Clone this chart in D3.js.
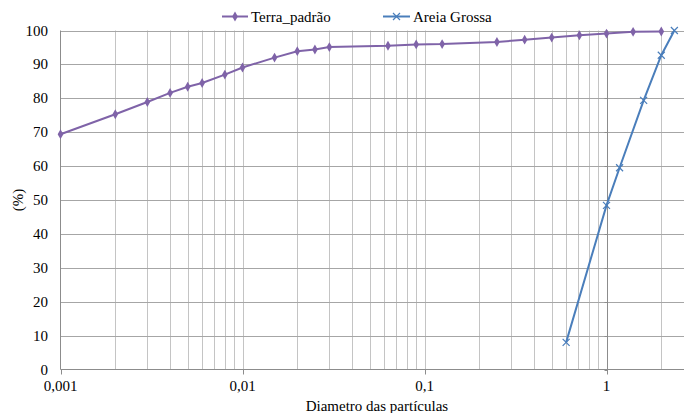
<!DOCTYPE html>
<html>
<head>
<meta charset="utf-8">
<script src="https://cdn.jsdelivr.net/npm/d3@7"></script>
<style>
  html, body { margin: 0; padding: 0; background: #fff; }
  svg { display: block; }
  text { font-family: "Liberation Serif", "Times New Roman", serif; fill: #000; }
</style>
</head>
<body>
<svg id="chart" width="684" height="413"></svg>
<script>
// ---- Data ----
const terraX = [0.001, 0.002, 0.003, 0.004, 0.005, 0.006, 0.008, 0.01, 0.015, 0.02, 0.025, 0.03, 0.063, 0.09, 0.125, 0.25, 0.355, 0.5, 0.71, 1.0, 1.4, 2.0];
const terraY = [69.4, 75.3, 78.9, 81.6, 83.4, 84.5, 87.0, 89.1, 92.0, 93.9, 94.4, 95.1, 95.5, 95.9, 96.0, 96.6, 97.3, 97.9, 98.6, 99.1, 99.6, 99.7];
const areiaX = [0.6, 1.0, 1.18, 1.6, 2.0, 2.36];
const areiaY = [8.0, 48.4, 59.5, 79.4, 92.7, 100];
const seriesNames = ["Terra_padrão", "Areia Grossa"];
const xTickValues = [0.001, 0.01, 0.1, 1];
const xTickLabels = ["0,001", "0,01", "0,1", "1"];
const yTickValues = [0, 10, 20, 30, 40, 50, 60, 70, 80, 90, 100];
const xTitle = "Diametro das partículas";
const yTitle = "(%)";

(function () {
// ---- Layout ----
const pLeft = 60.5, pTop = 30.5, pBottom = 369.5;
const decade = 182;
const fs = 15;
const svg = d3.select("#chart");

const x = d3.scaleLog().domain([0.001, 3]).range([pLeft, pLeft + decade * Math.log10(3 / 0.001)]);
const y = d3.scaleLinear().domain([0, 100]).range([pBottom, pTop]);
const pRight = x.range()[1];

const purple = "#7f63a8";
const blue = "#4a7ebb";

// vertical minor grid lines
const minorVals = [];
[0.001, 0.01, 0.1, 1].forEach(d => {
  for (let m = 1; m <= 9; m++) {
    const v = +(d * m).toPrecision(6);
    if (v > 0.001 && v < 3) minorVals.push(v);
  }
});
svg.append("g").selectAll("line").data(minorVals.filter(v => v !== 1)).join("line")
  .attr("x1", d => Math.round(x(d)) + 0.5).attr("x2", d => Math.round(x(d)) + 0.5)
  .attr("y1", pTop).attr("y2", pBottom)
  .attr("stroke", "#c4c4c4").attr("stroke-width", 1);

// horizontal grid lines
svg.append("g").selectAll("line").data(yTickValues.filter(v => v > 0)).join("line")
  .attr("x1", pLeft).attr("x2", pRight)
  .attr("y1", d => Math.round(y(d)) + 0.5).attr("y2", d => Math.round(y(d)) + 0.5)
  .attr("stroke", "#a6a6a6").attr("stroke-width", 1);

// line at x = 1 (vertical axis crossing) with small ticks
const x1 = Math.round(x(1)) + 0.5;
svg.append("line").attr("x1", x1).attr("x2", x1).attr("y1", pTop).attr("y2", pBottom)
  .attr("stroke", "#8c8c8c").attr("stroke-width", 1);
svg.append("g").selectAll("line").data(yTickValues).join("line")
  .attr("x1", x1 - 3).attr("x2", x1)
  .attr("y1", d => Math.round(y(d)) + 0.5).attr("y2", d => Math.round(y(d)) + 0.5)
  .attr("stroke", "#8c8c8c");

// axes: left and bottom
svg.append("line").attr("x1", pLeft).attr("x2", pLeft).attr("y1", pTop).attr("y2", pBottom)
  .attr("stroke", "#8c8c8c");
svg.append("line").attr("x1", pLeft).attr("x2", pRight).attr("y1", pBottom).attr("y2", pBottom)
  .attr("stroke", "#8c8c8c");

// x ticks
svg.append("g").selectAll("line").data(xTickValues).join("line")
  .attr("x1", d => Math.round(x(d)) + 0.5).attr("x2", d => Math.round(x(d)) + 0.5)
  .attr("y1", pBottom).attr("y2", pBottom + 5)
  .attr("stroke", "#8c8c8c");
svg.append("g").selectAll("text").data(xTickValues).join("text")
  .attr("x", d => x(d)).attr("y", 391)
  .attr("text-anchor", "middle").attr("font-size", fs)
  .text((d, i) => xTickLabels[i]);

// y tick labels
svg.append("g").selectAll("text").data(yTickValues).join("text")
  .attr("x", 48).attr("y", d => y(d) + 5)
  .attr("text-anchor", "end").attr("font-size", fs)
  .text(d => d);

// axis titles
svg.append("text").attr("x", (pLeft + pRight) / 2).attr("y", 411)
  .attr("text-anchor", "middle").attr("font-size", fs).text(xTitle);
svg.append("text").attr("transform", `translate(23,${(pTop + pBottom) / 2}) rotate(-90)`)
  .attr("text-anchor", "middle").attr("font-size", fs).text(yTitle);

// series
const terra = terraX.map((d, i) => [d, terraY[i]]);
const areia = areiaX.map((d, i) => [d, areiaY[i]]);
const line = d3.line().x(d => x(d[0])).y(d => y(d[1]));

svg.append("path").datum(terra).attr("d", line)
  .attr("fill", "none").attr("stroke", purple).attr("stroke-width", 2);
svg.append("path").datum(areia).attr("d", line)
  .attr("fill", "none").attr("stroke", blue).attr("stroke-width", 2);

const diamond = d3.symbol().type(d3.symbolDiamond).size(28);
svg.append("g").selectAll("path").data(terra).join("path")
  .attr("transform", d => `translate(${x(d[0])},${y(d[1])})`)
  .attr("d", diamond).attr("fill", purple);

function cross(g, cx, cy, r) {
  g.append("path").attr("d", `M${cx - r},${cy - r}L${cx + r},${cy + r}M${cx - r},${cy + r}L${cx + r},${cy - r}`)
    .attr("stroke", blue).attr("stroke-width", 1.2).attr("fill", "none");
}
const cg = svg.append("g");
areia.forEach(d => cross(cg, x(d[0]), y(d[1]), 3.5));

// legend
const lg = svg.append("g");
lg.append("line").attr("x1", 222).attr("x2", 248).attr("y1", 16.5).attr("y2", 16.5)
  .attr("stroke", purple).attr("stroke-width", 2);
lg.append("path").attr("transform", "translate(235,16.5)").attr("d", diamond).attr("fill", purple);
lg.append("text").attr("x", 251).attr("y", 21.5).attr("font-size", fs).text(seriesNames[0]);
lg.append("line").attr("x1", 383).attr("x2", 410).attr("y1", 16.5).attr("y2", 16.5)
  .attr("stroke", blue).attr("stroke-width", 2);
cross(lg, 396.5, 16.5, 3.5);
lg.append("text").attr("x", 413).attr("y", 21.5).attr("font-size", fs).text(seriesNames[1]);
})();
</script>
</body>
</html>
